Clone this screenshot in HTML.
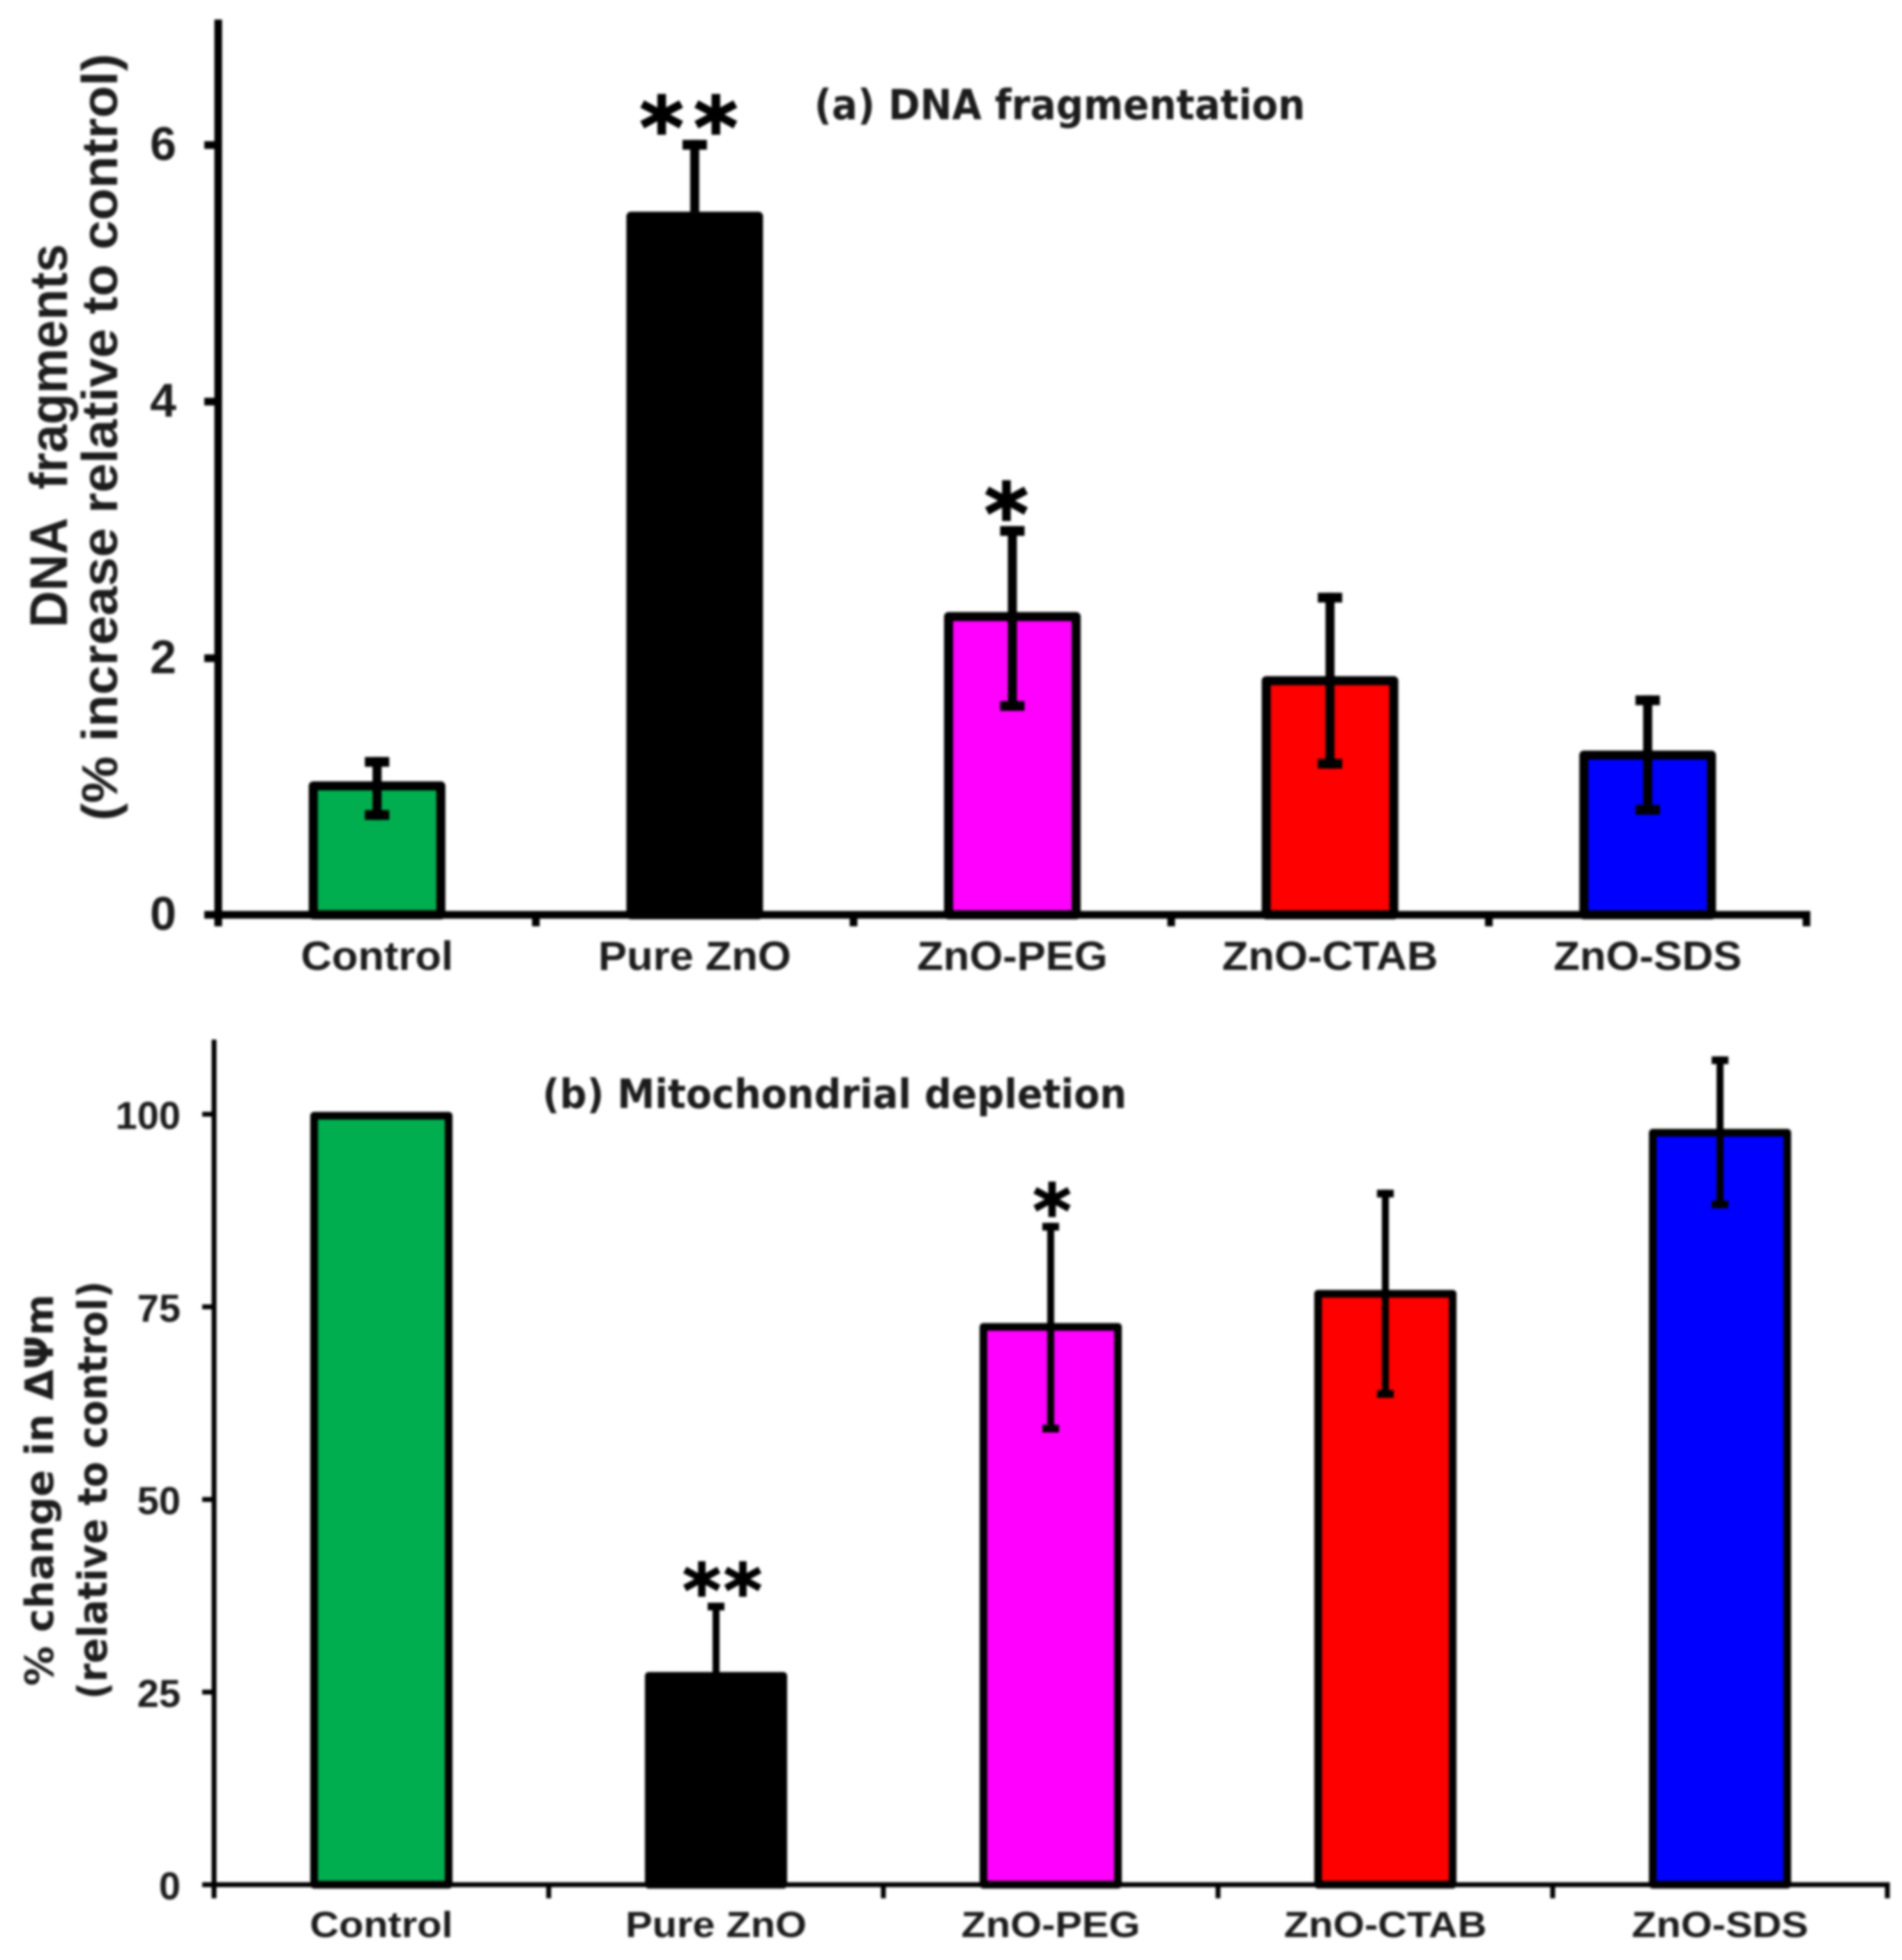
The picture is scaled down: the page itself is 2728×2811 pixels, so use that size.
<!DOCTYPE html>
<html lang="en">
<head>
<meta charset="utf-8">
<title>DNA fragmentation and mitochondrial depletion</title>
<style>
html,body{margin:0;padding:0;background:#fff;width:2728px;height:2811px;overflow:hidden}
svg{display:block;filter:blur(1.8px)}
text{font-family:"Liberation Sans",sans-serif;font-weight:bold;fill:#1c1c1c}
.dj{font-family:"DejaVu Sans",sans-serif}
</style>
</head>
<body>
<svg id="chart" xmlns="http://www.w3.org/2000/svg" width="2728" height="2811" viewBox="0 0 2728 2811"></svg>
<script>
const categories = ["Control", "Pure ZnO", "ZnO-PEG", "ZnO-CTAB", "ZnO-SDS"];
const barColors = ["#00AE4F", "#000000", "#FF00FF", "#FF0000", "#0000FF"];

const dnaValues = [1.04, 5.48, 2.36, 1.86, 1.28];
const dnaErrHigh = [1.23, 6.04, 3.03, 2.51, 1.71];
const dnaErrLow = [0.74, 5.48, 1.59, 1.14, 0.78];
const dnaTicks = [0, 2, 4, 6];
const dnaStars = ["", "**", "*", "", ""];

const mitoValues = [100.3, 27.6, 72.9, 77.2, 98.1];
const mitoErrHigh = [100.3, 36.6, 85.9, 90.2, 107.5];
const mitoErrLow = [100.3, 27.6, 58.7, 63.2, 87.8];
const mitoTicks = [0, 25, 50, 75, 100];
const mitoStars = ["", "**", "*", "", ""];

const svg = document.getElementById("chart");
const NS = "http://www.w3.org/2000/svg";

function make(tag, parent, props) {
  const el = document.createElementNS(NS, tag);
  for (const k in props) el.setAttribute(k, props[k]);
  parent.appendChild(el);
  return el;
}

function drawPanel(p) {
  const g = make("g", svg, {});
  
  
  const xCenter = i => p.x0 + p.band * (i + 0.5);
  const y = v => p.yZero - v * p.unit;

  p.values.forEach((v, i) => {
    const bar = make("rect", g, {
      x: xCenter(i) - p.barW / 2 + p.barStroke / 2,
      y: y(v) + p.barStroke / 2,
      width: p.barW - p.barStroke,
      height: Math.max(0, p.yZero - y(v) - p.barStroke / 2),
      fill: barColors[i], stroke: "#000", "stroke-width": p.barStroke, "stroke-linejoin": "round"
    });
    
    
  });

  p.values.forEach((v, i) => {
    const hi = p.errHigh[i], lo = p.errLow[i];
    if (hi === lo) return;
    const eb = make("g", g, {});
    
    
    const cx = xCenter(i);
    make("rect", eb, {x: cx - p.stem / 2, y: y(hi), width: p.stem, height: y(lo) - y(hi), fill: "#000"});
    make("rect", eb, {x: cx - p.capW / 2, y: y(hi), width: p.capW, height: p.capH, fill: "#000"});
    if (lo !== v) make("rect", eb, {x: cx - p.capW / 2, y: y(lo) - p.capH, width: p.capW, height: p.capH, fill: "#000"});
  });

  const yAxis = make("rect", g, {x: p.x0 - p.axisW / 2, y: p.axisTop, width: p.axisW, height: p.yZero + p.axisW / 2 - p.axisTop + p.tickLen, fill: "#000"});
  
  
  const xAxis = make("rect", g, {x: p.x0 - p.axisW / 2, y: p.yZero - p.axisW / 2, width: p.band * categories.length + p.axisW, height: p.axisW, fill: "#000"});
  
  

  p.ticks.forEach(t => {
    const mark = make("rect", g, {x: p.tickLeft, y: y(t) - p.tickW / 2, width: p.x0 - p.tickLeft, height: p.tickW, fill: "#000"});
    
    
    const label = make("text", g, {x: p.tickLabelX, y: y(t) + p.tickFont * 0.36 + p.tickLabelDy, "text-anchor": "end", "font-size": p.tickFont});
    label.textContent = t;
    
    
  });

  categories.forEach((c, i) => {
    const mark = make("rect", g, {x: p.x0 + p.band * (i + 1) - p.tickW / 2, y: p.yZero, width: p.tickW, height: p.tickLen + p.axisW / 2, fill: "#000"});
    
    
    const label = make("text", g, {x: xCenter(i), y: p.xLabelY, "text-anchor": "middle", "font-size": p.xFont, lengthAdjust: "spacingAndGlyphs"});
    label.textContent = c;
    label.setAttribute("textLength", label.getComputedTextLength() * p.xStretch);
    
    
  });

  p.stars.forEach((s, i) => {
    if (!s) return;
    const dx = s.length > 1 ? p.starDxDouble : p.starDxSingle;
    const mark = make("text", g, {class: "dj", x: xCenter(i) + dx, y: y(p.errHigh[i]) - p.starGap, "text-anchor": "middle", "font-size": p.starFont, "letter-spacing": p.starSpacing, stroke: "#000", "stroke-width": p.starStroke, style: "fill:#000"});
    mark.textContent = s;
    
    
  });
}

function label(text, name, x, y, width, size, cls, rotate) {
  const props = {x: x, y: y, "font-size": size, textLength: width, lengthAdjust: "spacingAndGlyphs"};
  if (cls) props.class = cls;
  if (rotate) props.transform = "rotate(-90 " + x + " " + y + ")";
  const el = make("text", svg, props);
  el.textContent = text;
  
  
}

drawPanel({
  name: "panel-a-dna-fragmentation", x0: 313, band: 455.6, yZero: 1312, unit: 184,
  values: dnaValues, errHigh: dnaErrHigh, errLow: dnaErrLow, ticks: dnaTicks, stars: dnaStars,
  barW: 196, barStroke: 13, stem: 13, capW: 35, capH: 14, axisW: 11, axisTop: 28, tickLen: 11,
  tickW: 11, tickLeft: 293, tickFont: 68, tickLabelX: 253, tickLabelDy: -3, xLabelY: 1391, xFont: 58, xStretch: 1.06,
  starDxDouble: -1, starDxSingle: -1, starGap: -25, starFont: 120, starSpacing: 15, starStroke: 2.5
});
drawPanel({
  name: "panel-b-mitochondrial-depletion", x0: 307, band: 480, yZero: 2703, unit: 11.05,
  values: mitoValues, errHigh: mitoErrHigh, errLow: mitoErrLow, ticks: mitoTicks, stars: mitoStars,
  barW: 204, barStroke: 11, stem: 10, capW: 24, capH: 11, axisW: 7, axisTop: 1491, tickLen: 16,
  tickW: 7, tickLeft: 290, tickFont: 56, tickLabelX: 259, tickLabelDy: 1, xLabelY: 2778, xFont: 52, xStretch: 1.11,
  starDxDouble: 11, starDxSingle: 4, starGap: -20, starFont: 105, starSpacing: 4, starStroke: 2
});

label("(a) DNA fragmentation", "panel-a-title", 1168, 171, 704, 60, "dj");
label("(b) Mitochondrial depletion", "panel-b-title", 778, 1589, 838, 58, "dj");
label("DNA\u00A0\u00A0fragments", "panel-a-y-title", 96, 900, 550, 76, "", true);
label("(% increase relative to control)", "panel-a-y-subtitle", 168, 1177, 1100, 72, "", true);
label("% change in \u0394\u03A8m", "panel-b-y-title", 76, 2418, 562, 56, "dj", true);
label("(relative to control)", "panel-b-y-subtitle", 153, 2437, 600, 58, "dj", true);
</script>
</body>
</html>
